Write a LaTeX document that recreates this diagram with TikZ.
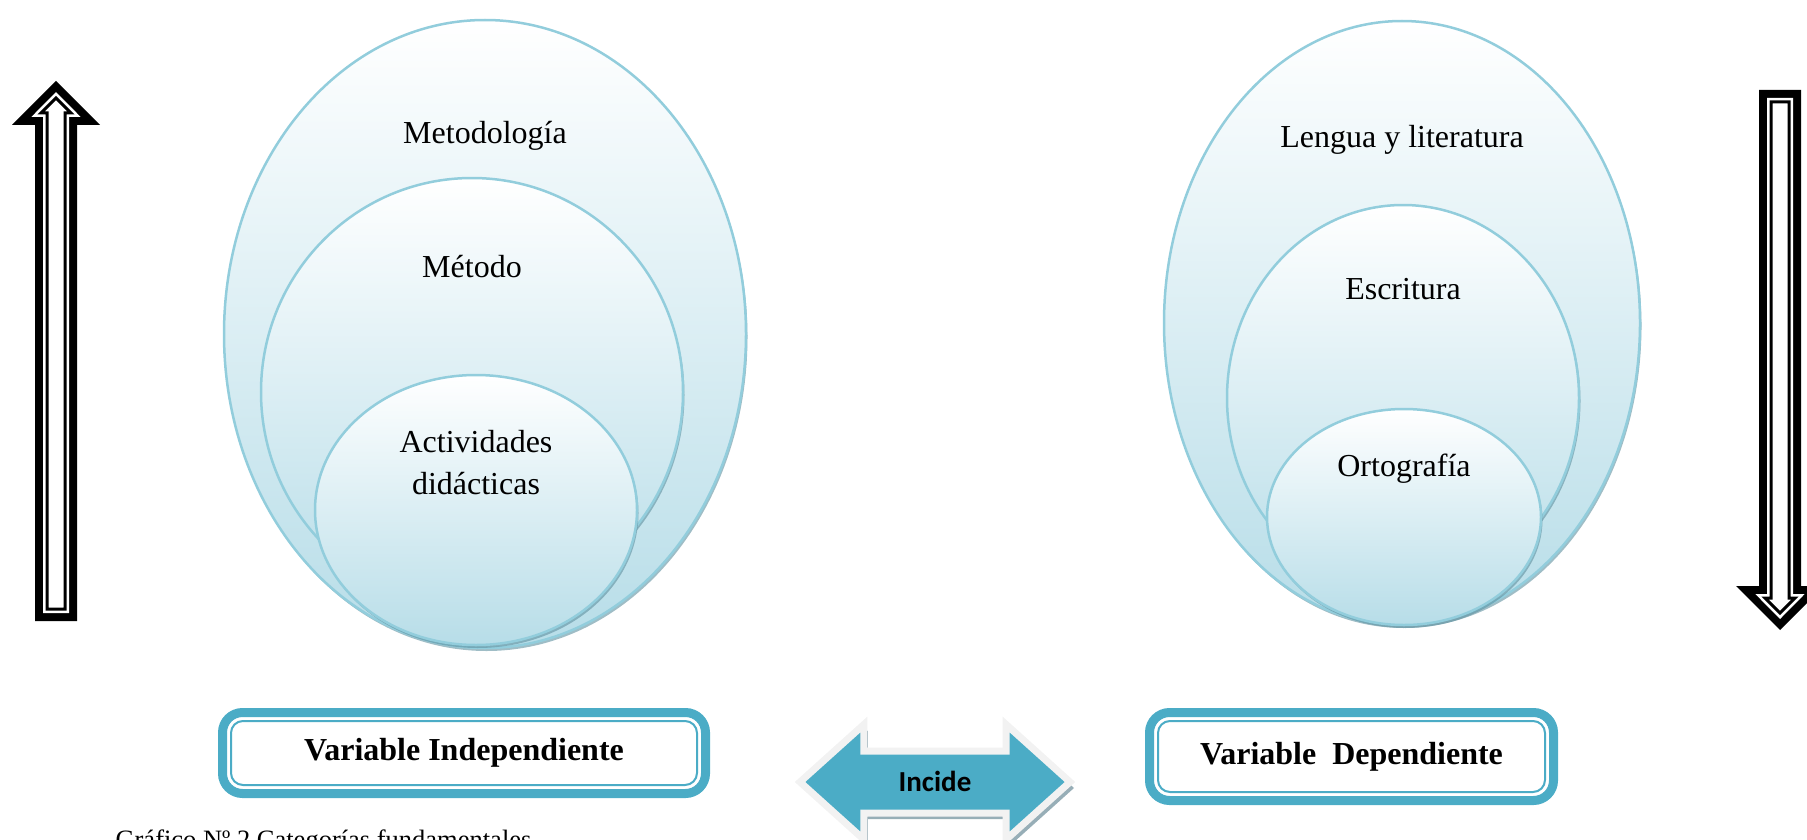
\documentclass[tikz,border=0pt]{standalone}
\usepackage{fontspec}
\setmainfont{Liberation Serif}
\newfontfamily\calibri{Carlito}
\usepackage{tikz}
\usetikzlibrary{shapes.geometric, shapes.arrows, shadows}
\usepackage{xcolor}

\definecolor{celeste}{RGB}{183,221,232}
\definecolor{bordecel}{RGB}{146,205,220}
\definecolor{turquesa}{RGB}{75,172,198}
\definecolor{sombra}{RGB}{95,145,160}
\definecolor{grisclaro}{RGB}{242,242,242}
\definecolor{sombragris}{RGB}{140,165,175}

\newcommand{\letra}{\fontsize{32}{42}\selectfont}

\begin{document}
\begin{tikzpicture}[
x=1pt, y=-1pt,
anillo/.style={ellipse,
draw=bordecel,
line width=2.5pt,
top color=white,
bottom color=celeste,
drop shadow={shadow xshift=1.5pt, shadow yshift=-3pt, fill=sombra, opacity=.6},
inner sep=0pt, outer sep=0pt},
texto/.style={font=\letra, anchor=base, align=center},
cajavar/.style={draw=turquesa,
rectangle,
rounded corners=20pt,
line width=9pt,
fill=white,
outer sep=0pt,
font=\letra\bfseries},
marco/.style={draw=turquesa, line width=2pt, rounded corners=12pt},
incide/.style={double arrow,
double arrow tip angle=84,
double arrow head extend=26.5pt,
minimum height=270pt,
minimum width=108pt,
text height=19pt, text depth=0pt,
inner ysep=18pt, inner xsep=0pt,
fill=turquesa,
draw=grisclaro,
line width=7pt,
drop shadow={shadow xshift=4pt, shadow yshift=-6pt, fill=sombragris, opacity=.9},
font=\calibri\bfseries\fontsize{29}{34}\selectfont},
flecha/.pic={
\fill[black] (0,0) -- (44,44) -- (21,44) -- (21,540) -- (-21,540) -- (-21,44) -- (-44,44) -- cycle;
\fill[white] (0,11) -- (24.7,36) -- (13,36) -- (13,532) -- (-13,532) -- (-13,36) -- (-24.7,36) -- cycle;
\draw[black, line width=3pt] (0,17) -- (15,32) -- (9,32) -- (9,528) -- (-9,528) -- (-9,32) -- (-15,32) -- cycle;
}
]

\useasboundingbox (0,0) rectangle (1807,840);

\node[anillo, minimum width=522pt, minimum height=628pt] (metodologia) at (485,334) {};
\node[anillo, minimum width=422pt, minimum height=428pt] (metodo) at (472,392) {};
\node[anillo, minimum width=322pt, minimum height=270pt] (actividades) at (476,510) {};

\node[texto] (tmetodologia) at (485,143) {Metodología};
\node[texto] (tmetodo) at (472,277) {Método};
\node[texto, anchor=center] (tactividades) at (476,463) {Actividades\\didácticas};

\node[anillo, minimum width=476pt, minimum height=604pt] (lengua) at (1402,323) {};
\node[anillo, minimum width=352pt, minimum height=386pt] (escritura) at (1403,398) {};
\node[anillo, minimum width=274pt, minimum height=216pt] (ortografia) at (1404,517) {};

\node[texto] (tlengua) at (1402,147) {Lengua y literatura};
\node[texto] (tescritura) at (1403,299) {Escritura};
\node[texto] (tortografia) at (1404,476) {Ortografía};

\node[cajavar, minimum width=483pt, minimum height=81pt] (independiente) at (464,753) {Variable Independiente};
\node[cajavar, minimum width=404pt, minimum height=88pt] (dependiente) at (1351.5,756.5) {Variable~~Dependiente};

\draw[marco] ([shift={(8.5pt,-8.5pt)}]independiente.north west) rectangle ([shift={(-8.5pt,8.5pt)}]independiente.south east);
\draw[marco] ([shift={(8.5pt,-8.5pt)}]dependiente.north west) rectangle ([shift={(-8.5pt,8.5pt)}]dependiente.south east);

\node[incide] (incide) at (935,782) {Incide};

\pic (flechaizq) at (56,81) {flecha};
\pic[rotate=180] (flechader) at (1780,630) {flecha};

\node[font=\fontsize{26.5}{30}\selectfont, anchor=base west] (grafico) at (112,848) {Gráfico Nº 2 Categorías fundamentales};

\end{tikzpicture}
\end{document}
